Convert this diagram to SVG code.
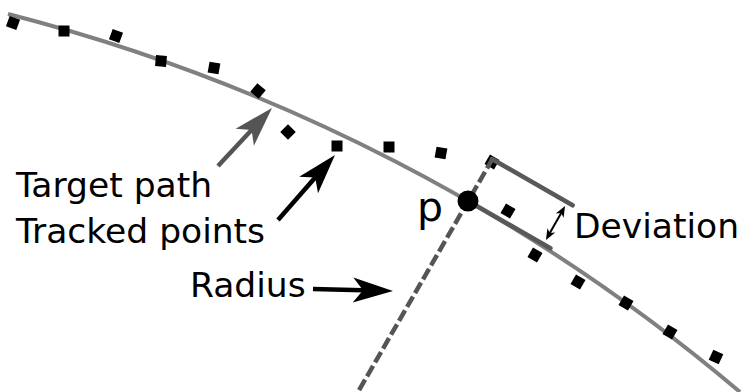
<svg xmlns="http://www.w3.org/2000/svg" width="743" height="392" viewBox="0 0 743 392">
<style>
text{font-family:"DejaVu Sans","Verdana",sans-serif;font-size:34.5px;fill:#000}
.dot{fill:#000}
.curve{fill:none;stroke:#808080;stroke-width:4}
.dev{fill:none;stroke:#595959;stroke-width:4.5;stroke-linecap:round}
.rad{fill:none;stroke:#555;stroke-width:4.5;stroke-dasharray:12 4}
.arr{fill:none;stroke-width:4.5}
</style>
<defs>
<marker id="ahb" viewBox="-42 -15 44 30" refX="-20" refY="0" markerWidth="44" markerHeight="30" markerUnits="userSpaceOnUse" orient="auto">
<path d="M0,0 L-40,-12.5 L-30,0 L-40,12.5 Z" fill="#000"/>
</marker>
<marker id="ahg" viewBox="-42 -15 44 30" refX="-20" refY="0" markerWidth="44" markerHeight="30" markerUnits="userSpaceOnUse" orient="auto">
<path d="M0,0 L-40,-12.5 L-30,0 L-40,12.5 Z" fill="#555"/>
</marker>
<marker id="sh" viewBox="-13 -6 15 12" refX="-5" refY="0" markerWidth="15" markerHeight="12" markerUnits="userSpaceOnUse" orient="auto-start-reverse">
<path d="M0,0 L-11,-4.5 L-8,0 L-11,4.5 Z" fill="#000"/>
</marker>
<rect id="sq" x="-5.5" y="-5.5" width="11" height="11"/>
</defs>
<g id="target-path">
<path class="curve" d="M 8 14 A 1838 1838 0 0 1 740 392"/>
</g>
<g id="tracked-points" class="dot">
<use href="#sq" transform="translate(13,23) rotate(20)"/>
<use href="#sq" transform="translate(64,31)"/>
<use href="#sq" transform="translate(116,36) rotate(20)"/>
<use href="#sq" transform="translate(161,61) rotate(5)"/>
<use href="#sq" transform="translate(214,68) rotate(10)"/>
<use href="#sq" transform="translate(258,91) rotate(40)"/>
<use href="#sq" transform="translate(288,132) rotate(45)"/>
<use href="#sq" transform="translate(337,146)"/>
<use href="#sq" transform="translate(389,147)"/>
<use href="#sq" transform="translate(441,153) rotate(10)"/>
<use href="#sq" transform="translate(492,162) rotate(30)"/>
<use href="#sq" transform="translate(508,211) rotate(30)"/>
<use href="#sq" transform="translate(535,255) rotate(30)"/>
<use href="#sq" transform="translate(578,282) rotate(30)"/>
<use href="#sq" transform="translate(626,303) rotate(30)"/>
<use href="#sq" transform="translate(670,332) rotate(30)"/>
<use href="#sq" transform="translate(716,357) rotate(25)"/>
</g>
<g id="radius">
<line class="rad" x1="493" y1="158" x2="358" y2="392"/>
</g>
<g id="deviation">
<line class="dev" x1="492" y1="159" x2="572.6" y2="205.3"/>
<line class="dev" x1="468" y1="201" x2="550.4" y2="248.3"/>
</g>
<g id="point-p">
<circle cx="468" cy="201" r="10.5" fill="#000"/>
<text x="417" y="221" style="font-size:41px">p</text>
</g>
<g id="label-target-path"><text x="16" y="197">Target path</text></g>
<g id="label-tracked-points"><text x="16" y="243">Tracked points</text></g>
<g id="label-radius"><text x="190" y="297">Radius</text></g>
<g id="label-deviation"><text x="574" y="238">Deviation</text></g>
<g id="connectors">
<line class="arr" stroke="#555" x1="218" y1="166" x2="258.4" y2="122.6" marker-end="url(#ahg)"/>
<line class="arr" stroke="#000" x1="278" y1="220" x2="321.8" y2="170" marker-end="url(#ahb)"/>
<line class="arr" stroke="#000" x1="313" y1="289" x2="373" y2="290.5" marker-end="url(#ahb)"/>
<line stroke="#000" stroke-width="2" x1="548.4" y1="235.6" x2="562.6" y2="210.4" marker-start="url(#sh)" marker-end="url(#sh)"/>
</g>
</svg>
